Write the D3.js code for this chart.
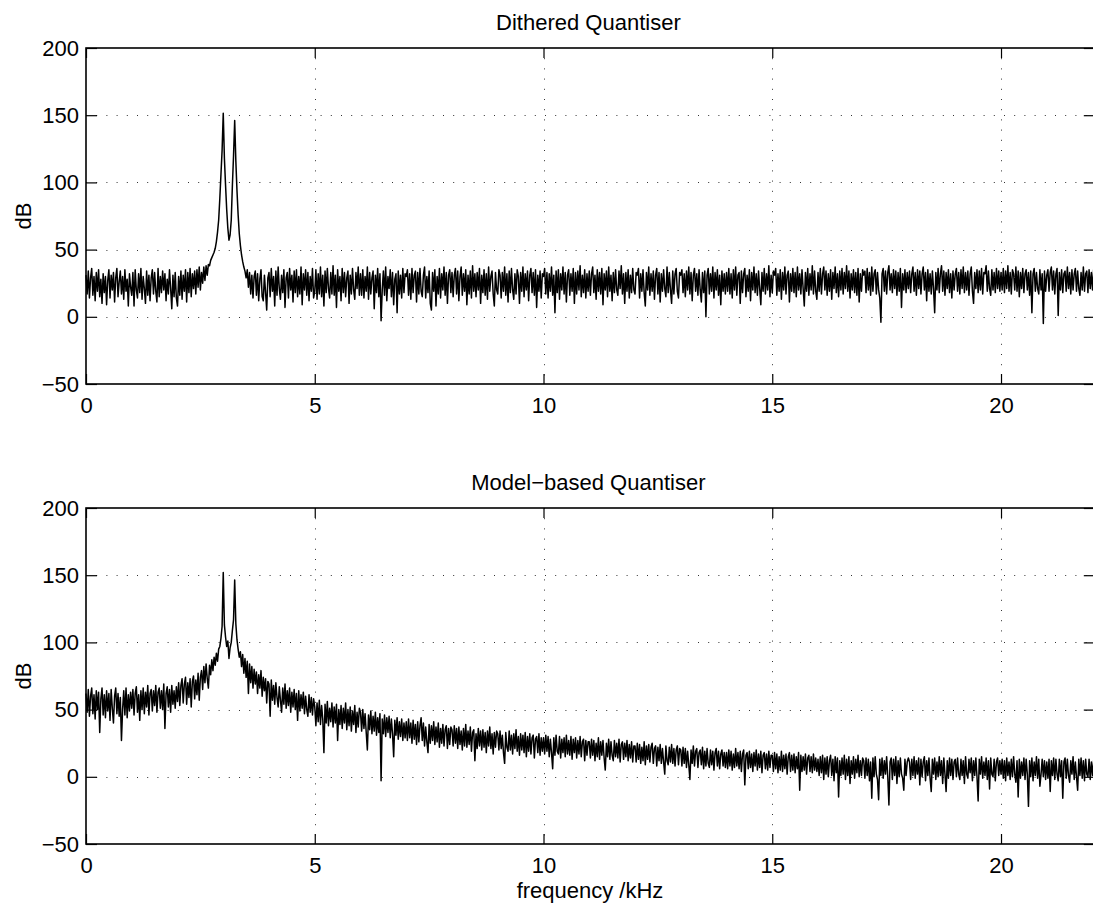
<!DOCTYPE html>
<html>
<head>
<meta charset="utf-8">
<script src="https://cdn.jsdelivr.net/npm/d3@7"></script>
<style>
  html, body { margin: 0; padding: 0; background: #fff; }
  svg { display: block; font-family: "Liberation Sans", Arial, Helvetica, sans-serif; }
</style>
</head>
<body>
<svg id="chart" width="1093" height="904"></svg>
<script>
// Spectrum bins are spaced 25 Hz apart, from 0 to 22.05 kHz.
const freqStep = 0.025;
const xTicks = [0, 5, 10, 15, 20];
const yTicks = [-50, 0, 50, 100, 150, 200];
const panelTitles = ["Dithered Quantiser", "Model\u2212based Quantiser"];
const yLabel = "dB";
const xLabel = "frequency /kHz";

// Magnitude (dB), one row per kHz.
const ditheredDb = [
  31,17,34,14,29,36,16,30,12,33,19,35,15,28,10,32,18,30,9,27,35,14,31,20,33,11,29,36,15,26,34,17,30,13,35,19,28,8,32,22,
  16,33,8,35,20,14,32,18,36,13,30,21,10,34,16,31,12,29,35,17,33,19,11,36,15,30,18,34,20,32,12,28,17,35,21,6,31,15,33,14,
  8,30,16,34,13,31,19,35,11,33,18,36,15,32,21,34,17,35,22,37,20,33,25,37,27,38,31,39,38,42,44,46,48,51,56,63,72,88,106,124,
  151.5,118,98,80,66,57,61,72,98,120,146,116,94,76,62,53,46,41,37,34,29,35,22,33,17,31,14,30,34,16,32,12,28,35,15,12,31,18,5,29,
  33,15,36,19,30,8,34,16,37,21,13,31,18,35,7,29,33,14,36,20,31,11,34,18,35,15,30,17,37,9,32,20,35,16,33,12,30,19,36,14,
  19,35,13,32,17,37,15,31,8,34,18,36,21,14,33,17,38,16,31,7,35,19,30,12,36,18,33,15,29,34,10,31,17,36,20,13,33,21,37,16,
  32,16,35,14,30,19,37,13,33,17,29,34,6,31,18,36,15,32,-3,20,34,16,37,12,30,21,35,15,33,9,28,32,3,34,17,31,14,36,18,32,
  30,35,16,32,13,36,18,31,34,11,33,17,36,19,15,31,37,14,30,18,34,10,5,33,19,35,8,30,17,36,14,32,20,37,16,33,10,31,35,18,
  33,15,31,36,17,34,12,30,37,16,32,19,35,9,31,17,34,14,38,19,32,15,33,20,36,10,31,18,35,16,32,13,37,19,30,34,17,8,33,20,
  17,35,31,14,33,19,37,16,32,11,34,18,36,20,13,32,17,35,30,10,33,19,37,15,32,20,34,12,31,36,18,33,16,35,7,31,19,34,14,32,
  30,36,17,33,14,32,19,37,16,31,3,34,18,35,13,32,20,37,17,33,11,31,35,16,32,19,36,10,33,17,34,20,38,15,31,18,35,14,32,19,
  34,16,32,37,18,31,13,35,19,33,17,36,9,32,20,34,15,37,19,31,12,33,18,35,20,16,34,21,38,17,32,10,33,19,35,14,31,18,36,20,
  17,33,31,36,14,32,19,35,18,8,33,20,37,16,32,19,34,13,31,36,17,33,11,32,19,35,21,15,37,18,33,20,10,34,17,32,36,19,14,33,
  31,35,18,32,15,34,20,37,17,33,12,31,36,19,32,16,35,20,11,33,18,34,0,31,36,17,32,19,37,14,33,20,35,16,31,9,34,19,32,17,
  33,19,36,17,32,14,35,20,37,16,31,33,10,34,18,32,36,15,31,19,35,12,33,20,37,18,32,16,34,21,9,33,19,36,17,32,20,38,15,31,
  18,34,31,36,16,32,19,35,13,33,20,37,17,31,34,11,32,19,36,18,33,15,37,20,32,17,35,21,8,33,19,36,16,32,20,38,17,34,19,13,
  33,19,36,17,32,37,20,34,16,32,19,35,13,33,21,37,18,32,15,34,20,36,17,33,21,38,19,34,14,32,20,35,18,33,16,36,11,32,19,35,
  31,34,18,36,20,33,16,37,19,32,35,17,33,20,14,-4,32,36,19,34,17,33,38,20,32,18,35,21,34,16,33,19,36,7,32,20,35,18,33,21,
  34,18,32,37,19,33,16,35,21,34,17,32,37,20,33,12,35,19,32,17,34,21,3,33,20,36,18,32,38,19,34,16,33,21,35,18,32,14,34,20,
  32,36,19,33,17,35,21,37,18,33,20,34,16,32,37,19,10,33,21,35,18,34,20,36,17,33,32,38,19,34,21,16,35,20,33,18,36,21,34,19,
  33,20,36,18,34,21,38,19,33,17,35,32,20,37,19,34,15,33,21,36,18,32,35,20,33,16,34,3,32,36,19,33,21,17,35,20,32,-5,34,19,
  31,35,19,33,37,20,34,17,32,36,1,33,20,35,18,32,34,19,37,21,33,17,35,20,32,36,19,34,21,16,33,20,37,19,32,34,18,35,21,33,
  20,35,22
];

const modelBasedDb = [
  62,48,65,45,60,66,47,61,43,64,50,63,33,58,66,46,61,44,64,49,62,42,65,51,40,60,66,47,62,45,59,27,50,64,46,66,44,61,49,63,
  51,65,46,62,67,48,61,42,64,50,66,47,63,52,68,46,62,65,49,64,53,68,48,63,66,51,64,50,69,36,62,67,52,65,48,68,54,64,51,67,
  56,70,53,68,73,55,69,74,54,70,59,73,52,71,75,58,72,61,77,57,74,79,65,82,70,84,73,66,83,76,87,79,89,83,92,86,95,97,103,112,
  152,113,104,97,101,88,96,100,109,117,146.5,114,102,95,89,93,82,91,77,88,74,86,62,84,70,82,66,80,69,78,62,76,66,79,60,74,64,73,55,71,
  69,45,72,57,68,54,70,59,52,67,57,48,66,54,69,51,64,53,66,48,63,52,65,50,62,42,64,49,61,51,63,47,60,50,45,61,48,59,46,58,
  52,38,55,41,57,39,53,43,18,54,40,56,38,51,41,55,37,52,40,54,27,50,39,53,36,51,40,55,35,50,38,52,34,49,39,53,33,48,37,51,
  48,34,50,36,47,33,20,46,35,49,32,45,34,48,31,44,33,47,-3,43,32,46,30,44,33,45,29,43,32,15,42,31,44,28,41,30,43,27,40,29,
  41,27,43,29,40,25,42,28,39,24,41,26,38,44,27,40,23,37,26,18,39,25,38,27,41,24,37,26,40,22,36,25,39,23,35,38,21,36,24,37,
  35,23,38,25,36,21,37,24,34,20,36,23,39,22,34,24,37,19,33,35,12,32,21,36,23,34,20,35,22,33,18,34,23,37,21,32,17,33,22,34,
  32,20,34,21,31,18,10,33,22,19,34,20,31,17,32,21,35,19,30,16,32,20,31,18,33,15,30,19,32,17,29,31,14,28,30,18,32,16,29,19,
  29,17,31,19,30,15,28,18,6,29,16,31,19,17,30,14,28,18,29,15,31,17,27,16,30,13,28,18,29,14,27,17,30,15,26,28,12,27,16,26,
  26,14,28,16,27,12,25,15,29,13,26,16,27,14,5,25,15,28,13,26,16,12,27,15,25,14,28,11,24,26,13,25,15,27,12,24,14,26,11,23,
  23,11,25,13,24,10,22,12,26,9,23,13,24,11,22,25,10,21,23,8,22,12,24,10,21,11,2,23,12,9,22,11,24,10,21,8,20,23,9,21,
  20,8,22,10,21,7,19,9,-2,20,10,23,8,19,21,7,18,20,9,22,6,19,8,21,10,7,20,9,19,5,18,21,8,19,6,17,20,8,18,7,
  18,6,20,8,19,5,17,7,21,8,18,6,19,4,17,20,-6,16,18,6,19,7,17,4,18,8,20,5,17,7,19,3,16,18,6,17,5,19,7,16,
  16,4,18,6,17,3,15,5,19,4,16,6,17,2,15,18,4,16,5,17,3,15,6,18,-10,16,4,15,5,17,2,14,16,4,15,3,17,5,14,4,
  13,1,15,3,16,-2,14,2,15,0,12,16,1,13,-3,15,3,14,-15,12,1,14,2,16,-2,13,1,15,-5,12,2,15,-1,13,3,16,0,12,1,14,
  12,-1,14,1,13,-3,11,-16,14,0,15,2,-2,-17,13,1,14,-1,12,2,15,0,-21,11,14,-2,13,1,15,-5,12,0,14,2,-1,-10,13,1,11,14,
  11,-2,13,1,15,-1,12,2,14,-6,13,0,11,15,-3,12,1,14,-1,-11,13,2,14,-2,11,0,15,1,12,-5,14,2,-11,12,-1,14,1,13,-2,11,
  13,0,14,2,-2,13,1,12,-5,15,2,-1,13,3,14,-3,12,1,14,0,-18,13,2,15,-1,11,1,14,-2,12,-9,14,2,0,13,-3,11,14,1,12,
  2,13,-1,12,-3,14,1,11,-2,13,0,15,2,-4,12,-15,13,-1,11,1,14,-2,13,2,-22,12,0,14,-3,11,1,15,-1,13,-7,2,13,0,12,-2,
  11,-1,13,-11,12,1,14,-2,13,2,-3,13,0,12,-16,11,14,-1,13,1,-4,12,2,15,-2,11,0,-10,13,1,14,-1,12,-3,13,2,0,13,-2,11,
  1,12,-1
];

const svg = d3.select("#chart");
const fontSize = 22;
const xLeft = 86, xRight = 1094.8;
const panels = [
  { top: 48,  bottom: 384, values: ditheredDb,   title: panelTitles[0] },
  { top: 508, bottom: 844, values: modelBasedDb, title: panelTitles[1] }
];

const x = d3.scaleLinear().domain([0, 22.05]).range([xLeft, xRight]);
const fmt = d3.format("d");

panels.forEach(p => {
  const y = d3.scaleLinear().domain([-50, 200]).range([p.bottom, p.top]);
  const g = svg.append("g");

  // dotted grid
  const grid = g.append("g").attr("stroke", "#333").attr("stroke-width", 1)
    .attr("stroke-dasharray", "1 9.2");
  grid.selectAll("line.h").data(yTicks.filter(v => v > -50 && v < 200)).join("line")
    .attr("x1", xLeft).attr("x2", xRight)
    .attr("y1", d => Math.round(y(d)) + 0.5).attr("y2", d => Math.round(y(d)) + 0.5);
  grid.selectAll("line.v").data(xTicks.filter(v => v > 0)).join("line")
    .attr("y1", p.top).attr("y2", p.bottom)
    .attr("x1", d => Math.round(x(d)) + 0.5).attr("x2", d => Math.round(x(d)) + 0.5);

  // spectrum trace
  const line = d3.line()
    .x((d, i) => x(i * freqStep))
    .y(d => y(d));
  g.append("path").datum(p.values)
    .attr("d", line)
    .attr("fill", "none")
    .attr("stroke", "#000")
    .attr("stroke-width", 1.5)
    .attr("stroke-linejoin", "round");

  // axes with inward ticks on all four sides
  const styleAxis = sel => {
    sel.select(".domain").remove();
    sel.selectAll(".tick line").attr("stroke", "#000").attr("stroke-width", 1.2);
    sel.selectAll(".tick text").attr("fill", "#000").style("font-size", fontSize + "px");
    sel.attr("font-family", null).attr("font-size", null);
  };
  g.append("g").attr("transform", `translate(${xLeft},0)`)
    .call(d3.axisLeft(y).tickValues(yTicks).tickSize(-11).tickSizeOuter(0).tickPadding(7).tickFormat(fmt))
    .call(styleAxis);
  g.append("g").attr("transform", `translate(${xRight},0)`)
    .call(d3.axisRight(y).tickValues(yTicks).tickSize(-11).tickSizeOuter(0).tickFormat(""))
    .call(styleAxis);
  g.append("g").attr("transform", `translate(0,${p.bottom})`)
    .call(d3.axisBottom(x).tickValues(xTicks).tickSize(-10).tickSizeOuter(0).tickPadding(13).tickFormat(fmt))
    .call(styleAxis);
  g.append("g").attr("transform", `translate(0,${p.top})`)
    .call(d3.axisTop(x).tickValues(xTicks).tickSize(-10).tickSizeOuter(0).tickFormat(""))
    .call(styleAxis);

  // frame
  g.append("rect")
    .attr("x", xLeft).attr("y", p.top)
    .attr("width", xRight - xLeft).attr("height", p.bottom - p.top)
    .attr("fill", "none").attr("stroke", "#000").attr("stroke-width", 1.6);

  // title
  g.append("text")
    .attr("x", (xLeft + xRight) / 2 - 2).attr("y", p.top - 18)
    .attr("text-anchor", "middle").style("font-size", fontSize + "px")
    .text(p.title);

  // y label
  g.append("text")
    .attr("transform", `translate(31,${(p.top + p.bottom) / 2}) rotate(-90)`)
    .attr("text-anchor", "middle").style("font-size", fontSize + "px")
    .text(yLabel);
});

// x label under the lower panel
svg.append("text")
  .attr("x", 590).attr("y", 898)
  .attr("text-anchor", "middle").style("font-size", fontSize + "px")
  .text(xLabel);
</script>
</body>
</html>
